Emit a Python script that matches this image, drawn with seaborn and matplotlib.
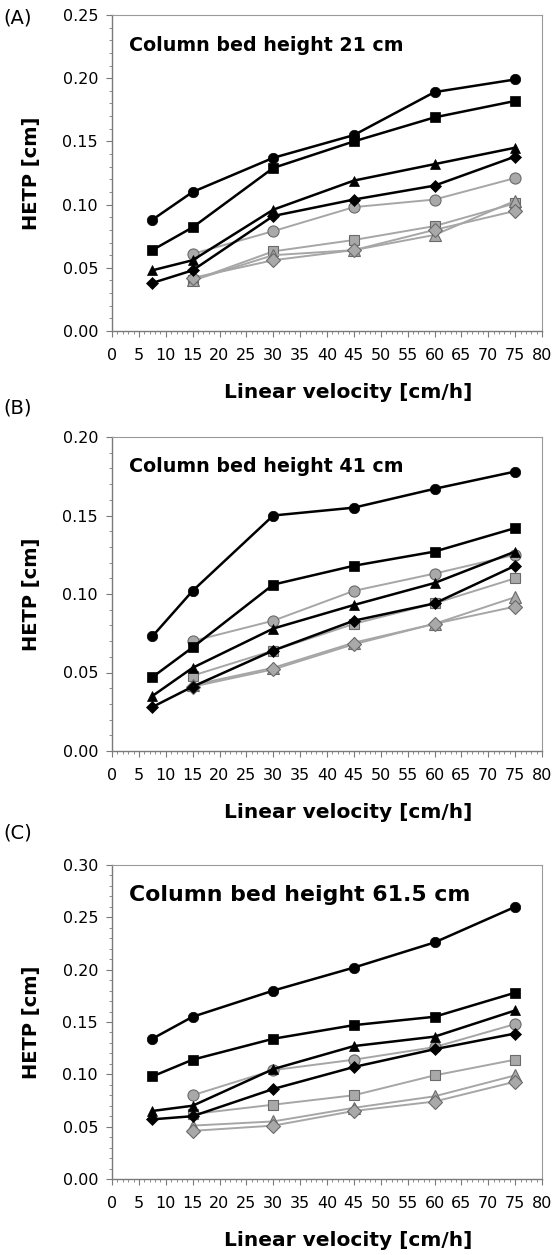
import matplotlib
matplotlib.use("Agg")
import matplotlib.pyplot as plt
from matplotlib.ticker import MultipleLocator, FormatStrFormatter
import seaborn as sns
import pandas as pd

sns.set_style("white")
plt.rcParams["font.family"] = ["DejaVu Sans"]
plt.rcParams["text.color"] = "black"
plt.rcParams["axes.labelcolor"] = "black"
plt.rcParams["xtick.color"] = "black"
plt.rcParams["ytick.color"] = "black"

# Linear velocities [cm/h]
vel_full = [7.5, 15, 30, 45, 60, 75]
vel_short = [15, 30, 45, 60, 75]

# HETP [cm] per bed height; black series start at 7.5 cm/h, grey series at 15 cm/h
a_circle = [0.088, 0.110, 0.137, 0.155, 0.189, 0.199]
a_square = [0.064, 0.082, 0.129, 0.150, 0.169, 0.182]
a_triangle = [0.048, 0.056, 0.096, 0.119, 0.132, 0.145]
a_diamond = [0.038, 0.048, 0.091, 0.104, 0.115, 0.138]
a_circle_g = [0.061, 0.079, 0.098, 0.104, 0.121]
a_square_g = [0.040, 0.063, 0.072, 0.083, 0.101]
a_triangle_g = [0.040, 0.060, 0.064, 0.076, 0.103]
a_diamond_g = [0.042, 0.056, 0.064, 0.080, 0.095]

b_circle = [0.073, 0.102, 0.150, 0.155, 0.167, 0.178]
b_square = [0.047, 0.066, 0.106, 0.118, 0.127, 0.142]
b_triangle = [0.035, 0.053, 0.078, 0.093, 0.107, 0.127]
b_diamond = [0.028, 0.041, 0.064, 0.083, 0.094, 0.118]
b_circle_g = [0.070, 0.083, 0.102, 0.113, 0.125]
b_square_g = [0.048, 0.064, 0.081, 0.094, 0.110]
b_triangle_g = [0.042, 0.053, 0.069, 0.081, 0.098]
b_diamond_g = [0.041, 0.052, 0.068, 0.081, 0.092]

c_circle = [0.134, 0.155, 0.180, 0.202, 0.226, 0.260]
c_square = [0.098, 0.114, 0.134, 0.147, 0.155, 0.178]
c_triangle = [0.065, 0.070, 0.105, 0.127, 0.136, 0.161]
c_diamond = [0.057, 0.060, 0.086, 0.107, 0.124, 0.139]
c_circle_g = [0.080, 0.104, 0.114, 0.126, 0.148]
c_square_g = [0.062, 0.071, 0.080, 0.099, 0.114]
c_triangle_g = [0.051, 0.055, 0.068, 0.079, 0.099]
c_diamond_g = [0.046, 0.051, 0.065, 0.074, 0.093]

panel_letters = ["(A)", "(B)", "(C)"]
titles = ["Column bed height 21 cm", "Column bed height 41 cm", "Column bed height 61.5 cm"]
y_max = [0.25, 0.20, 0.30]
x_label = "Linear velocity [cm/h]"
y_label = "HETP [cm]"

panels = [
    ([a_circle, a_square, a_triangle, a_diamond], [a_circle_g, a_square_g, a_triangle_g, a_diamond_g]),
    ([b_circle, b_square, b_triangle, b_diamond], [b_circle_g, b_square_g, b_triangle_g, b_diamond_g]),
    ([c_circle, c_square, c_triangle, c_diamond], [c_circle_g, c_square_g, c_triangle_g, c_diamond_g]),
]
markers = ["o", "s", "^", "D"]
msizes = [7.5, 6.5, 7.5, 6.5]

W, H = 554, 1255
fig = plt.figure(figsize=(W / 100, H / 100), dpi=100)
# axes boxes in pixels: (left, top, right, bottom)
boxes = [(112, 15, 542, 331), (112, 437, 542, 751), (112, 865, 542, 1179)]
letter_y = [18, 408, 833]
xlabel_y = [393, 813, 1240]
title_sizes = [13.7, 13.7, 15.8]

spine_col = "#7a7a7a"
grey_line = "#a6a6a6"
grey_face = "#a9a9a9"
grey_edge = "#6a6a6a"

for i, (box, (blacks, greys)) in enumerate(zip(boxes, panels)):
    l, t, r, b = box
    ax = fig.add_axes([l / W, 1 - b / H, (r - l) / W, (b - t) / H])

    for vals, m, ms in zip(greys, markers, msizes):
        df = pd.DataFrame({"v": vel_short, "h": vals})
        sns.lineplot(data=df, x="v", y="h", ax=ax, color=grey_line, linewidth=1.4,
                     marker=m, markersize=ms + 0.5, markerfacecolor=grey_face,
                     markeredgecolor=grey_edge, markeredgewidth=0.8, zorder=2)
    for vals, m, ms in zip(blacks, markers, msizes):
        df = pd.DataFrame({"v": vel_full, "h": vals})
        sns.lineplot(data=df, x="v", y="h", ax=ax, color="black", linewidth=1.8,
                     marker=m, markersize=ms, markerfacecolor="black",
                     markeredgecolor="black", markeredgewidth=0.5, zorder=3)

    ax.set_xlim(0, 80)
    ax.set_ylim(0, y_max[i])
    ax.xaxis.set_major_locator(MultipleLocator(5))
    ax.xaxis.set_minor_locator(MultipleLocator(1))
    ax.yaxis.set_major_locator(MultipleLocator(0.05))
    ax.yaxis.set_minor_locator(MultipleLocator(0.01))
    ax.yaxis.set_major_formatter(FormatStrFormatter("%.2f"))
    ax.tick_params(axis="both", which="both", bottom=True, left=True, top=False, right=False)
    ax.tick_params(axis="both", which="major", direction="out", length=4, width=0.8,
                   color=spine_col, labelcolor="black", labelsize=11.5, pad=6)
    ax.tick_params(axis="both", which="minor", direction="out", length=2.2, width=0.6,
                   color=spine_col)
    ax.tick_params(axis="x", which="major", pad=8)
    for side in ["left", "bottom"]:
        ax.spines[side].set_color(spine_col)
        ax.spines[side].set_linewidth(1.0)
    for side in ["top", "right"]:
        ax.spines[side].set_color("#9a9a9a")
        ax.spines[side].set_linewidth(0.8)
    ax.set_xlabel("")
    ax.set_ylabel(y_label, fontsize=14, fontweight="bold", color="black")
    ax.yaxis.set_label_coords(-0.165, 0.5)
    ax.text(0.04, 0.905, titles[i], transform=ax.transAxes, fontsize=title_sizes[i],
            fontweight="bold", va="center", ha="left", color="black")

    fig.text(3 / W, 1 - letter_y[i] / H, panel_letters[i], fontsize=14, va="center",
             ha="left", color="black")
    fig.text(348 / W, 1 - xlabel_y[i] / H, x_label, fontsize=14.5, fontweight="bold",
             va="center", ha="center", color="black")

fig.savefig("out.png", dpi=100)
